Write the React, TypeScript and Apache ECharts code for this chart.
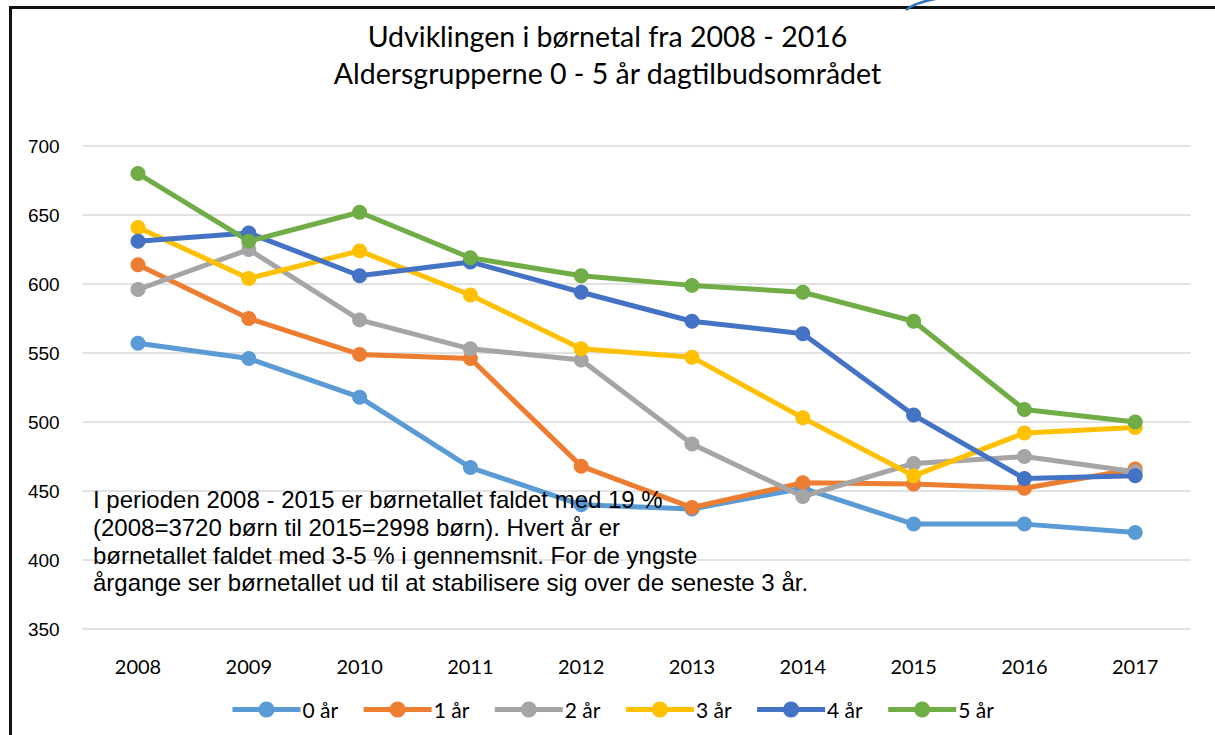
import React, { useEffect, useRef } from "react";
import * as echarts from "echarts";

const years = ["2008", "2009", "2010", "2011", "2012", "2013", "2014", "2015", "2016", "2017"];
const seriesNames = ["0 år", "1 år", "2 år", "3 år", "4 år", "5 år"];
const age0 = [557, 546, 518, 467, 440, 437, 452, 426, 426, 420];
const age1 = [614, 575, 549, 546, 468, 438, 456, 455, 452, 466];
const age2 = [596, 625, 574, 553, 545, 484, 446, 470, 475, 464];
const age3 = [641, 604, 624, 592, 553, 547, 503, 461, 492, 496];
const age4 = [631, 637, 606, 616, 594, 573, 564, 505, 459, 461];
const age5 = [680, 631, 652, 619, 606, 599, 594, 573, 509, 500];
const colors = ["#5B9BD5", "#ED7D31", "#A5A5A5", "#FFC000", "#4472C4", "#70AD47"];
const titleText = "Udviklingen i børnetal fra 2008 - 2016\nAldersgrupperne 0 - 5 år dagtilbudsområdet";
const noteText =
  "I perioden 2008 - 2015 er børnetallet faldet med 19 %\n(2008=3720 børn til 2015=2998 børn). Hvert år er\nbørnetallet faldet med 3-5 % i gennemsnit. For de yngste\nårgange ser børnetallet ud til at stabilisere sig over de seneste 3 år.";

export default function App() {
  const ref = useRef<HTMLDivElement>(null);
  useEffect(() => {
    document.body.style.margin = "0";
    if (!ref.current) return;
    const chart = echarts.init(ref.current, null, { renderer: "svg" });
    const data = [age0, age1, age2, age3, age4, age5];
    chart.setOption({
      animation: false,
      backgroundColor: "#ffffff",
      title: {
        text: titleText,
        left: "center",
        top: 17,
        padding: 0,
        textStyle: {
          fontFamily: "Lato",
          fontWeight: "normal",
          fontSize: 28.5,
          lineHeight: 37,
          color: "#000000",
        },
      },
      legend: {
        data: seriesNames,
        top: 699,
        left: 230,
        padding: 0,
        itemWidth: 68,
        itemHeight: 20,
        itemGap: 23,
        lineStyle: { width: 5 },
        textStyle: { fontFamily: "Lato", fontSize: 21, color: "#000000", padding: [0, 0, 0, -3] },
      },
      grid: { left: 82.6, right: 24.4, top: 146, bottom: 106 },
      xAxis: {
        type: "category",
        data: years,
        boundaryGap: true,
        axisLine: { show: false },
        axisTick: { show: false },
        axisLabel: { fontFamily: "Lato", fontSize: 20, color: "#000000", margin: 27 },
      },
      yAxis: {
        type: "value",
        min: 350,
        max: 700,
        interval: 50,
        axisLine: { show: false },
        axisTick: { show: false },
        axisLabel: { fontFamily: "Liberation Sans", fontSize: 19, color: "#000000", margin: 23 },
        splitLine: { lineStyle: { color: "#D9D9D9", width: 1.5 } },
      },
      series: seriesNames.map((name, i) => ({
        name,
        type: "line",
        data: data[i],
        symbol: "circle",
        symbolSize: 15,
        color: colors[i],
        lineStyle: { width: 5, color: colors[i] },
        itemStyle: { color: colors[i] },
      })),
      graphic: [
        {
          type: "rect",
          shape: { x: 10.5, y: 7.5, width: 1400, height: 900 },
          style: { fill: "none", stroke: "#111111", lineWidth: 3 },
          z: 50,
          silent: true,
        },
        {
          type: "bezierCurve",
          shape: { x1: 906, y1: 10, x2: 935, y2: -1, cpx1: 914, cpy1: 3 },
          style: { stroke: "#2E75B6", lineWidth: 2.5, fill: "none" },
          z: 51,
          silent: true,
        },
        {
          type: "text",
          x: 93,
          y: 486,
          z: 100,
          style: {
            text: noteText,
            fontFamily: "Liberation Sans",
            fontSize: 24,
            lineHeight: 27.7,
            fill: "#000000",
            textVerticalAlign: "top",
          },
        },
      ],
    });
    return () => chart.dispose();
  }, []);
  return <div ref={ref} style={{ width: 1215, height: 735 }} />;
}
